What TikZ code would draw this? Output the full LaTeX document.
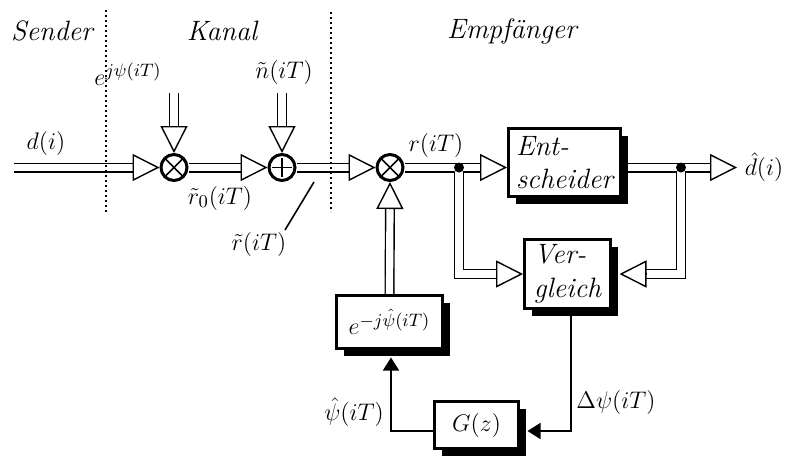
\documentclass[tikz,border=0pt]{standalone}
\usepackage{fontspec}
\usetikzlibrary{arrows.meta,calc,shadows,backgrounds}
\newcommand\ohd[2]{\draw[ohead] ($(#2)!13.5pt!(#1)$) -- (#2);}
\begin{document}
\begin{tikzpicture}[x=0.5pt,y=-0.5pt,
  font=\fontsize{14}{16.8}\selectfont,
  mfont/.style={font=\fontsize{12.5}{15}\selectfont},
  dbl/.style={double, double distance=3.6pt, line width=0.7pt},
  ohead/.style={line width=0.7pt, -{Triangle[length=13.5pt,width=13.5pt,fill=white,line width=0.7pt]}},
  thinline/.style={line width=0.8pt},
  fhead/.style={-{Triangle[length=6.5pt,width=8pt]}},
  sepline/.style={line width=0.9pt, dash pattern=on 1.1pt off 1.4pt},
  mult/.style={circle, draw, line width=1.5pt, minimum size=13pt, inner sep=0pt, fill=white,
    path picture={\draw[line width=0.75pt]
      (path picture bounding box.south west) -- (path picture bounding box.north east)
      (path picture bounding box.north west) -- (path picture bounding box.south east);}},
  addn/.style={circle, draw, line width=1.5pt, minimum size=13pt, inner sep=0pt, fill=white,
    path picture={\draw[line width=0.75pt]
      ([xshift=-4.8pt]path picture bounding box.center) -- ([xshift=4.8pt]path picture bounding box.center)
      ([yshift=-4.8pt]path picture bounding box.center) -- ([yshift=4.8pt]path picture bounding box.center);}},
  blk/.style={draw, line width=1.5pt, fill=white, inner sep=1pt,
    drop shadow={shadow xshift=3.75pt, shadow yshift=-3.75pt, opacity=1, fill=black}},
  jdot/.style={circle, fill=black, inner sep=0pt, minimum size=5pt},
  lbl/.style={inner sep=1pt, mfont}
]
\useasboundingbox (0,0) rectangle (788,461);

% separators
\draw[sepline] (106,10) -- (106,213);
\draw[sepline] (331,12) -- (331,212);

% region titles
\node[inner sep=1pt] (tsend) at (52,31) {\itshape Sender};
\node[inner sep=1pt] (tkan) at (222,31) {\itshape Kanal};
\node[inner sep=1pt] (temp) at (512,31) {\itshape Empfänger};

% operators
\node[mult] (m1) at (174,167.5) {};
\node[addn] (ad) at (282,167.5) {};
\node[mult] (m2) at (390,167.5) {};

% blocks
\node[blk, minimum width=56pt, minimum height=34pt, align=left] (ent) at (564.5,162.5) {\itshape Ent-\\\itshape scheider};
\node[blk, minimum width=43pt, minimum height=34.5pt, align=left] (verg) at (567.5,274) {\itshape Ver-\\\itshape gleich};
\node[blk, mfont, minimum width=53pt, minimum height=26.5pt] (ebox) at (389.5,322) {$e^{-j\hat\psi(iT)}$};
\node[blk, mfont, minimum width=42pt, minimum height=23.5pt] (gz) at (476.5,425) {$G(z)$};

% coordinates
\coordinate (in) at (14,167.5);
\coordinate (t1) at (174,93);
\coordinate (t2) at (282,93);
\coordinate (j1) at (459,167.5);
\coordinate (j2) at (681,167.5);
\coordinate (outp) at (737,167.5);
\coordinate (c1) at (571,431);
\coordinate (c2) at (391,431);
\coordinate (pa) at (314,182);
\coordinate (pb) at (285,230);

% labels
\node[lbl] (le) at (128,74) {$e^{j\psi(iT)}$};
\node[lbl] (ln) at (284,72) {$\tilde n(iT)$};
\node[lbl] (ld) at (46,143) {$d(i)$};
\node[lbl] (lr0) at (220,198) {$\tilde r_0(iT)$};
\node[lbl] (lrt) at (259,244) {$\tilde r(iT)$};
\node[lbl] (lr) at (436,145) {$r(iT)$};
\node[lbl] (ldh) at (764,167) {$\hat d(i)$};
\node[lbl] (lpsi) at (354,412) {$\hat\psi(iT)$};
\node[lbl] (ldpsi) at (616,402) {$\Delta\psi(iT)$};

\begin{scope}[on background layer]
  % input
  \draw[dbl] (in) -- ($(m1.west)+(-22,0)$);
  \ohd{in}{m1.west}
  \draw[dbl] (t1) -- ($(m1.north)+(0,-22)$);
  \ohd{t1}{m1.north}
  \draw[dbl] (t2) -- ($(ad.north)+(0,-22)$);
  \ohd{t2}{ad.north}
  \draw[dbl] (m1.east) -- ($(ad.west)+(-22,0)$);
  \ohd{m1.east}{ad.west}
  \draw[dbl] (ad.east) -- ($(m2.west)+(-22,0)$);
  \ohd{ad.east}{m2.west}
  \draw[dbl] (ebox.north) -- ($(m2.south)+(0,22)$);
  \ohd{ebox.north}{m2.south}
  % to decision and comparison
  \draw[dbl] (m2.east) -- ($(ent.west |- j1)+(-22,0)$)
             (j1) |- ($(verg.west)+(-22,0)$);
  \ohd{m2.east}{ent.west |- j1}
  \ohd{j1 |- verg.west}{verg.west}
  % output and feedback
  \draw[dbl] (ent.east |- j2) -- ($(outp)+(-22,0)$)
             (j2) |- ($(verg.east)+(29.5,0)$);
  \ohd{j2}{outp}
  \coordinate (vr) at ($(verg.east)+(7.5,0)$);
  \ohd{j2 |- verg.east}{vr}
  % control loop
  \draw[thinline, fhead] (verg.south -| c1) -- (c1) -- ($(gz.east |- c1)+(7.5,0)$);
  \draw[thinline, fhead] (gz.west |- c1) -- (c2) -- ($(ebox.south -| c2)+(0,7.5)$);
  % pointer
  \draw[thinline] (pa) -- (pb);
\end{scope}

\node[jdot] (d1) at (j1) {};
\node[jdot] (d2) at (j2) {};
\end{tikzpicture}
\end{document}
